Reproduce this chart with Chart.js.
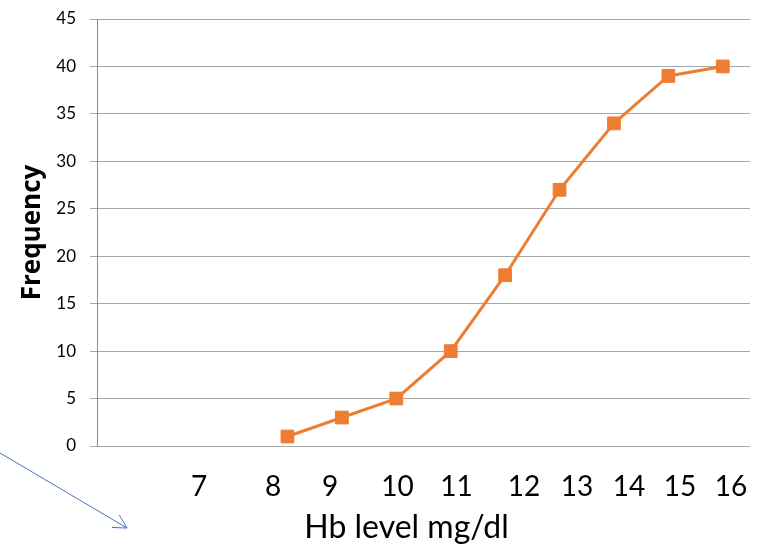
<!DOCTYPE html>
<html>
<head>
<meta charset="utf-8">
<script src="https://cdn.jsdelivr.net/npm/chart.js@4/dist/chart.umd.min.js"></script>
<style>
  html, body { margin: 0; padding: 0; background: #ffffff; }
  #wrap { width: 757px; height: 545px; position: relative; }
</style>
</head>
<body>
<div id="wrap"><canvas id="chart" width="757" height="545"></canvas></div>
<script>
// Cumulative frequency of haemoglobin level
const categories = ['', '', '', '8', '9', '10', '11', '12', '13', '14', '15', '16'];
const frequency = [null, null, null, 1, 3, 5, 10, 18, 27, 34, 39, 40];
const hbLabels = ['7', '8', '9', '10', '11', '12', '13', '14', '15', '16'];
const yMin = 0, yMax = 45, yStep = 5;

const FONT = 'Lato, "Open Sans", sans-serif';
const ORANGE = '#ED7D31';

// centre x of each Hb label under the plot
const hbLabelX = [199, 273, 330, 397.5, 456.5, 524, 577, 629, 680, 731];

const overlay = {
  id: 'overlay',
  afterDraw(chart) {
    const ctx = chart.ctx;
    ctx.save();
    // Hb level labels
    ctx.fillStyle = '#000000';
    ctx.font = '28px ' + FONT;
    ctx.textAlign = 'center';
    ctx.textBaseline = 'middle';
    hbLabels.forEach((t, i) => ctx.fillText(t, hbLabelX[i], 487));
    // axis title
    ctx.font = '32px ' + FONT;
    ctx.fillStyle = '#000000';
    ctx.fillText('Hb level mg/dl', 406.5, 528);
    // pointer arrow
    ctx.strokeStyle = '#4472C4';
    ctx.lineWidth = 1;
    const x0 = 0, y0 = 453, x1 = 127, y1 = 528;
    ctx.beginPath();
    ctx.moveTo(x0, y0);
    ctx.lineTo(x1, y1);
    const ang = Math.atan2(y1 - y0, x1 - x0);
    const len = 15, spread = 0.5;
    ctx.moveTo(x1 - len * Math.cos(ang - spread), y1 - len * Math.sin(ang - spread));
    ctx.lineTo(x1, y1);
    ctx.lineTo(x1 - len * Math.cos(ang + spread), y1 - len * Math.sin(ang + spread));
    ctx.stroke();
    ctx.restore();
  }
};

new Chart(document.getElementById('chart'), {
  type: 'line',
  data: {
    labels: categories,
    datasets: [{
      label: 'Frequency',
      data: frequency,
      borderColor: ORANGE,
      backgroundColor: ORANGE,
      borderWidth: 3,
      pointStyle: 'rect',
      pointRadius: 9,
      pointBorderWidth: 1,
      pointBackgroundColor: ORANGE,
      pointBorderColor: ORANGE,
      tension: 0,
      spanGaps: false
    }]
  },
  options: {
    responsive: false,
    animation: false,
    layout: { autoPadding: false, padding: { top: 19, right: 7, left: 0, bottom: 0 } },
    plugins: { legend: { display: false }, tooltip: { enabled: false } },
    scales: {
      x: {
        type: 'category',
        offset: true,
        grid: { display: false },
        border: { display: false },
        ticks: { display: false },
        afterFit(scale) { scale.height = 99; }
      },
      y: {
        min: yMin,
        max: yMax,
        ticks: {
          stepSize: yStep,
          color: '#000000',
          padding: 14,
          font: { family: FONT, size: 17 }
        },
        grid: { color: '#a6a6a6', lineWidth: 1, tickLength: 7 },
        border: { display: true, color: '#8c8c8c', width: 1 },
        title: {
          display: true,
          text: 'Frequency',
          color: '#000000',
          font: { family: '"Open Sans", Lato, sans-serif', size: 26, weight: 'bold' },
          padding: { top: 17, bottom: 0 }
        },
        afterFit(scale) {
          scale.width = 97;
          scale.paddingTop = 0;
          scale.paddingBottom = 0;
        }
      }
    }
  },
  plugins: [overlay]
});
</script>
</body>
</html>
